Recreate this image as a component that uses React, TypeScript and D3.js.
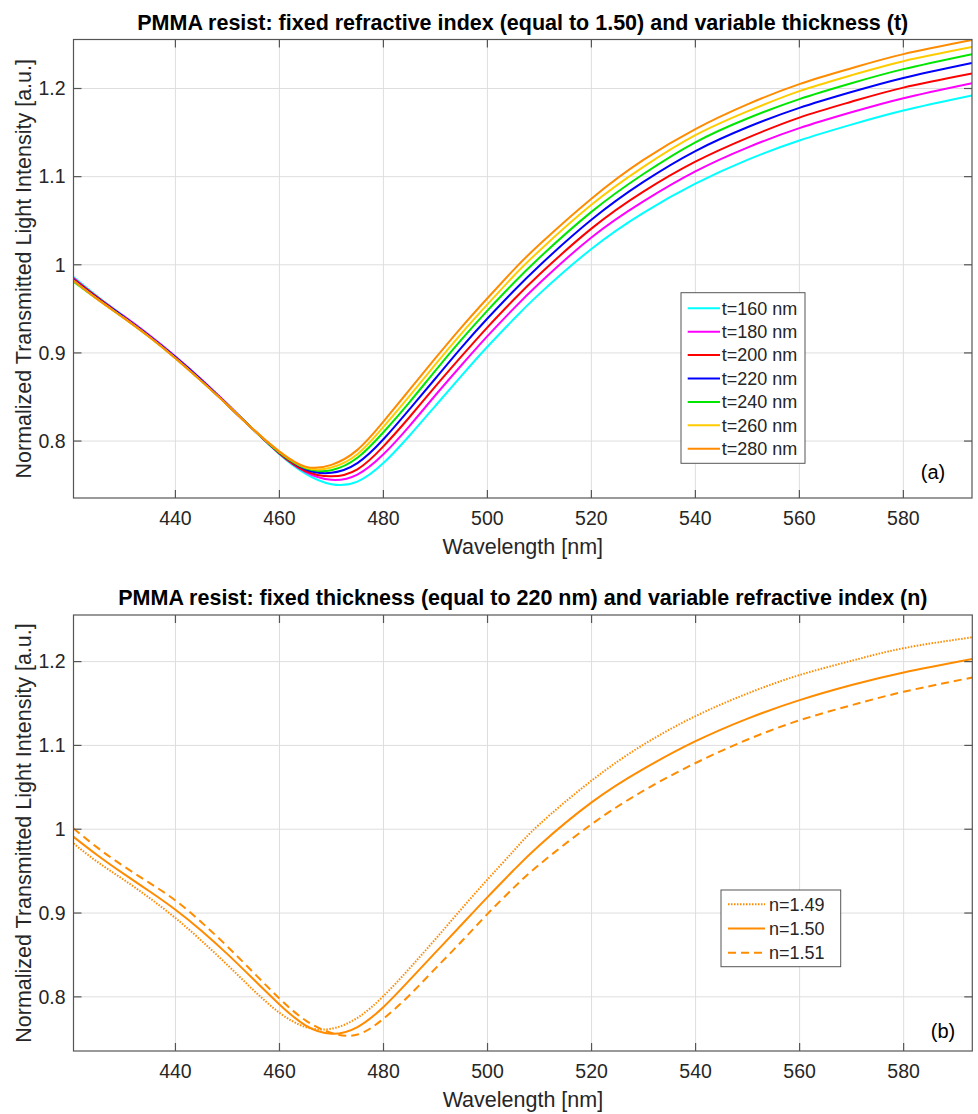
import React from 'react';
import * as d3 from 'd3';

// wavelength samples [nm]
const wavelengths = [420.4, 425, 430, 435, 440, 445, 450, 455, 460, 465, 470, 475, 480, 485, 490, 495, 500, 505, 510, 520, 530, 540, 550, 560, 570, 580, 593.2];

// (a) fixed n = 1.50, variable thickness
const t160 = [0.986, 0.964, 0.942, 0.920, 0.896, 0.870, 0.842, 0.813, 0.785, 0.763, 0.751, 0.754, 0.775, 0.806, 0.840, 0.874, 0.907, 0.938, 0.967, 1.018, 1.059, 1.092, 1.119, 1.141, 1.159, 1.175, 1.192];
const t180 = [0.985, 0.963, 0.942, 0.920, 0.896, 0.870, 0.842, 0.813, 0.786, 0.765, 0.756, 0.762, 0.785, 0.817, 0.852, 0.886, 0.919, 0.950, 0.979, 1.031, 1.072, 1.106, 1.133, 1.155, 1.173, 1.189, 1.206];
const t200 = [0.984, 0.963, 0.941, 0.919, 0.895, 0.869, 0.841, 0.813, 0.786, 0.766, 0.760, 0.768, 0.794, 0.827, 0.862, 0.896, 0.929, 0.960, 0.989, 1.041, 1.083, 1.117, 1.144, 1.167, 1.185, 1.201, 1.217];
const t220 = [0.983, 0.962, 0.941, 0.919, 0.895, 0.869, 0.841, 0.813, 0.787, 0.768, 0.764, 0.775, 0.802, 0.836, 0.871, 0.906, 0.939, 0.970, 0.999, 1.051, 1.094, 1.129, 1.156, 1.178, 1.196, 1.212, 1.229];
const t240 = [0.981, 0.961, 0.940, 0.918, 0.894, 0.868, 0.841, 0.813, 0.787, 0.769, 0.767, 0.781, 0.810, 0.844, 0.880, 0.915, 0.948, 0.979, 1.008, 1.060, 1.103, 1.139, 1.166, 1.188, 1.206, 1.222, 1.239];
const t260 = [0.982, 0.961, 0.940, 0.918, 0.894, 0.868, 0.841, 0.813, 0.788, 0.770, 0.770, 0.785, 0.816, 0.851, 0.887, 0.922, 0.955, 0.987, 1.016, 1.068, 1.111, 1.147, 1.174, 1.197, 1.215, 1.231, 1.247];
const t280 = [0.982, 0.961, 0.940, 0.918, 0.894, 0.868, 0.841, 0.813, 0.788, 0.771, 0.773, 0.790, 0.822, 0.858, 0.894, 0.929, 0.962, 0.994, 1.023, 1.075, 1.119, 1.154, 1.182, 1.205, 1.223, 1.239, 1.255];
const thicknessLabels = ['t=160 nm', 't=180 nm', 't=200 nm', 't=220 nm', 't=240 nm', 't=260 nm', 't=280 nm'];
const thicknessColors = ['#00ffff', '#ff00ff', '#ff0000', '#0000ff', '#00e600', '#ffcc00', '#ff8c00'];

// (b) fixed t = 220 nm, variable refractive index
const n149 = [0.983, 0.961, 0.940, 0.918, 0.894, 0.867, 0.838, 0.808, 0.781, 0.764, 0.762, 0.775, 0.801, 0.834, 0.869, 0.905, 0.940, 0.974, 1.006, 1.058, 1.101, 1.135, 1.162, 1.184, 1.201, 1.216, 1.229];
const n150 = [0.991, 0.969, 0.947, 0.926, 0.904, 0.879, 0.851, 0.821, 0.791, 0.766, 0.756, 0.764, 0.788, 0.820, 0.853, 0.886, 0.919, 0.951, 0.981, 1.032, 1.072, 1.105, 1.132, 1.154, 1.172, 1.187, 1.203];
const n151 = [1.001, 0.978, 0.956, 0.936, 0.915, 0.889, 0.860, 0.829, 0.798, 0.772, 0.757, 0.755, 0.774, 0.802, 0.834, 0.866, 0.899, 0.930, 0.958, 1.006, 1.046, 1.079, 1.107, 1.130, 1.148, 1.164, 1.181];
const indexLabels = ['n=1.49', 'n=1.50', 'n=1.51'];

const xTicks = [440, 460, 480, 500, 520, 540, 560, 580];
const yTicks = [0.8, 0.9, 1, 1.1, 1.2];
const xLimits = [420.4, 593.2];
const yLimits = [0.7354, 1.2556];

const FONT = '"Liberation Sans", Arial, Helvetica, sans-serif';
const TXT = '#262626';

type Series = { label: string; values: number[]; color: string; dash?: string };

function Panel({ id, box, title, series, legend, tag }: any) {
  const { left, right, top, bottom } = box;
  const x = d3.scaleLinear().domain(xLimits).range([left, right]);
  const y = d3.scaleLinear().domain(yLimits).range([bottom, top]);
  const line = d3.line<number>()
    .x((_, i) => x(wavelengths[i]))
    .y(d => y(d))
    .curve(d3.curveNatural);
  const cx = (left + right) / 2;
  const cy = (top + bottom) / 2;
  const tick = 8;

  return (
    <g fontFamily={FONT}>
      <defs>
        <clipPath id={id}>
          <rect x={left} y={top} width={right - left} height={bottom - top} />
        </clipPath>
      </defs>
      <rect x={left} y={top} width={right - left} height={bottom - top} fill="#fff" />
      {/* grid */}
      {xTicks.map(t => (
        <line key={'gx' + t} x1={x(t)} x2={x(t)} y1={top} y2={bottom} stroke="#dedede" />
      ))}
      {yTicks.map(t => (
        <line key={'gy' + t} x1={left} x2={right} y1={y(t)} y2={y(t)} stroke="#dedede" />
      ))}
      {/* curves */}
      <g clipPath={`url(#${id})`}>
        {series.map((s: Series) => (
          <path key={s.label} d={line(s.values) || ''} fill="none" stroke={s.color}
            strokeWidth={2} strokeDasharray={s.dash} />
        ))}
      </g>
      {/* box + ticks */}
      <rect x={left} y={top} width={right - left} height={bottom - top} fill="none" stroke="#555" strokeWidth={1.2} />
      {xTicks.map(t => (
        <g key={'tx' + t} stroke="#555" strokeWidth={1.2}>
          <line x1={x(t)} x2={x(t)} y1={bottom} y2={bottom - tick} />
          <line x1={x(t)} x2={x(t)} y1={top} y2={top + tick} />
        </g>
      ))}
      {yTicks.map(t => (
        <g key={'ty' + t} stroke="#555" strokeWidth={1.2}>
          <line x1={left} x2={left + tick} y1={y(t)} y2={y(t)} />
          <line x1={right} x2={right - tick} y1={y(t)} y2={y(t)} />
        </g>
      ))}
      {xTicks.map(t => (
        <text key={'lx' + t} x={x(t)} y={bottom + 27} textAnchor="middle" fontSize={19.5} fill={TXT}>{t}</text>
      ))}
      {yTicks.map(t => (
        <text key={'ly' + t} x={left - 8} y={y(t)} dy="0.35em" textAnchor="end" fontSize={19.5} fill={TXT}>{String(t)}</text>
      ))}
      {/* labels */}
      <text x={cx} y={top - 10} textAnchor="middle" fontSize={21.5} fontWeight="bold" fill="#000">{title}</text>
      <text x={cx} y={bottom + 56} textAnchor="middle" fontSize={21.5} fill={TXT}>Wavelength [nm]</text>
      <text transform={`translate(31,${cy}) rotate(-90)`} textAnchor="middle" fontSize={21.5} fill={TXT}>
        Normalized Transmitted Light Intensity [a.u.]
      </text>
      <text x={tag.x} y={tag.y} dy="0.35em" textAnchor="middle" fontSize={20} fill="#000">{tag.text}</text>
      {/* legend */}
      <g>
        <rect x={legend.x} y={legend.y} width={legend.w} height={legend.h} fill="#fff" stroke="#555" strokeWidth={1} />
        {series.map((s: Series, i: number) => {
          const ry = legend.y + legend.first + i * legend.step;
          return (
            <g key={'lg' + s.label}>
              <line x1={legend.x + legend.l0} x2={legend.x + legend.l1} y1={ry} y2={ry}
                stroke={s.color} strokeWidth={2} strokeDasharray={s.dash} />
              <text x={legend.x + legend.tx} y={ry} dy="0.35em" fontSize={18} fill={TXT}>{s.label}</text>
            </g>
          );
        })}
      </g>
    </g>
  );
}

export default function App() {
  const thickSeries: Series[] = [t160, t180, t200, t220, t240, t260, t280].map((v, i) => ({
    label: thicknessLabels[i], values: v, color: thicknessColors[i],
  }));
  const indexSeries: Series[] = [
    { label: indexLabels[0], values: n149, color: '#ff8c00', dash: '1.5,1.5' },
    { label: indexLabels[1], values: n150, color: '#ff8c00' },
    { label: indexLabels[2], values: n151, color: '#ff8c00', dash: '8,5' },
  ];

  return (
    <svg width={978} height={1114} style={{ position: 'absolute', left: 0, top: 0, background: '#fff' }}>
      <rect width={978} height={1114} fill="#fff" />
      <Panel
        id="clipA"
        box={{ left: 73.5, right: 972, top: 39.5, bottom: 498 }}
        title="PMMA resist: fixed refractive index (equal to 1.50) and variable thickness (t)"
        series={thickSeries}
        legend={{ x: 681, y: 292.7, w: 124, h: 170.6, first: 15.6, step: 23.4, l0: 6.7, l1: 39, tx: 40.7 }}
        tag={{ text: '(a)', x: 933, y: 471.7 }}
      />
      <Panel
        id="clipB"
        box={{ left: 73.5, right: 972.3, top: 615, bottom: 1051 }}
        title="PMMA resist: fixed thickness (equal to 220 nm) and variable refractive index (n)"
        series={indexSeries}
        legend={{ x: 721, y: 890, w: 119.7, h: 76.7, first: 14.3, step: 24.2, l0: 7, l1: 44, tx: 48 }}
        tag={{ text: '(b)', x: 943, y: 1030.7 }}
      />
    </svg>
  );
}
